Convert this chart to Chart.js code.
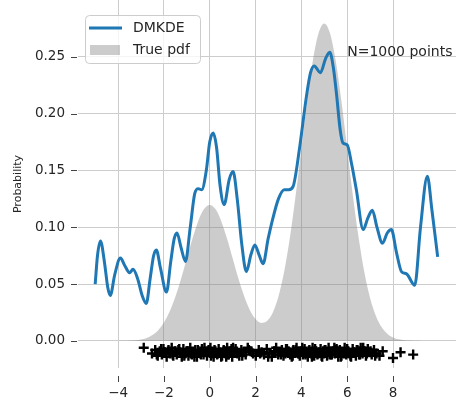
<!DOCTYPE html>
<html lang="en">
<head>
    <meta charset="UTF-8" />
    <title>DMKDE vs true pdf</title>
    <style>
        body {
            margin: 0;
            background-color: #ffffff;
        }
        #chart {
            display: block;
        }
    </style>
</head>
<body>
<canvas id="chart" width="456" height="402"></canvas>

<script src="https://cdn.jsdelivr.net/npm/chart.js"></script>
<script>
    // DMKDE estimate
    const dmkdeX = [-5.0, -4.9, -4.77, -4.6, -4.45, -4.34, -4.15, -3.9, -3.7, -3.5,
        -3.35, -3.15, -2.95, -2.77, -2.6, -2.45, -2.33, -2.15, -1.89, -1.7,
        -1.55, -1.43, -1.25, -1.06, -0.85, -0.65, -0.5, -0.35, -0.15, 0.0,
        0.15, 0.3, 0.45, 0.63, 0.85, 1.02, 1.2, 1.4, 1.6, 1.8,
        1.97, 2.15, 2.33, 2.55, 2.77, 3.0, 3.25, 3.45, 3.64, 3.93,
        4.22, 4.4, 4.56, 4.83, 5.05, 5.24, 5.4, 5.53, 5.7, 5.82,
        6.0, 6.2, 6.4, 6.7, 6.9, 7.1, 7.3, 7.54, 7.75, 7.93,
        8.15, 8.37, 8.59, 8.95, 9.2, 9.5, 9.7, 9.95];
    const dmkdeY = [0.050, 0.075, 0.088, 0.070, 0.047, 0.040, 0.058, 0.073, 0.066, 0.060,
        0.063, 0.055, 0.040, 0.033, 0.055, 0.075, 0.080, 0.064, 0.043, 0.070,
        0.090, 0.095, 0.082, 0.070, 0.100, 0.130, 0.134, 0.133, 0.150, 0.175,
        0.183, 0.170, 0.137, 0.120, 0.142, 0.149, 0.125, 0.085, 0.061, 0.076,
        0.0845, 0.076, 0.068, 0.090, 0.109, 0.125, 0.133, 0.133, 0.136, 0.171,
        0.215, 0.236, 0.242, 0.236, 0.248, 0.254, 0.240, 0.218, 0.185, 0.174,
        0.1725, 0.155, 0.133, 0.098, 0.108, 0.115, 0.100, 0.086, 0.095, 0.098,
        0.078, 0.061, 0.059, 0.049, 0.100, 0.145, 0.115, 0.074];

    // true density (grey area)
    const pdfX = [-5.0, -4.75, -4.5, -4.25, -4.0, -3.75, -3.5, -3.25, -3.0, -2.75,
        -2.5, -2.25, -2.0, -1.75, -1.5, -1.25, -1.0, -0.75, -0.5, -0.25,
        0.0, 0.25, 0.5, 0.75, 1.0, 1.25, 1.5, 1.75, 2.0, 2.25,
        2.5, 2.75, 3.0, 3.25, 3.5, 3.75, 4.0, 4.25, 4.5, 4.75,
        5.0, 5.25, 5.5, 5.75, 6.0, 6.25, 6.5, 6.75, 7.0, 7.25,
        7.5, 7.75, 8.0, 8.25, 8.5, 8.75, 9.0, 9.25, 9.5, 9.75, 10.0];
    const pdfY = [0, 0, 0, 0, 0, 0.0001, 0.0003, 0.0006, 0.0013, 0.0027,
        0.0053, 0.0095, 0.0162, 0.0259, 0.0389, 0.0548, 0.0726, 0.0903, 0.1056, 0.1160,
        0.1197, 0.1160, 0.1056, 0.0903, 0.0727, 0.0551, 0.0395, 0.0273, 0.0193, 0.0159,
        0.0176, 0.0249, 0.0391, 0.0610, 0.0910, 0.1279, 0.1694, 0.2108, 0.2465, 0.2707,
        0.2793, 0.2707, 0.2465, 0.2108, 0.1694, 0.1278, 0.0907, 0.0604, 0.0378, 0.0222,
        0.0123, 0.0064, 0.0031, 0.0014, 0.0006, 0.0003, 0.0001, 0, 0, 0, 0];

    // sample points drawn as '+' under the curves
    const rugX = [-2.88, -2.52, -2.38, -2.27, -2.18, -2.09, -2.02, -1.95, -1.88, -1.80,
        -1.74, -1.66, -1.59, -1.51, -1.44, -1.37, -1.29, -1.22, -1.15, -1.07,
        -1.00, -0.93, -0.85, -0.78, -0.71, -0.63, -0.56, -0.49, -0.41, -0.34,
        -0.27, -0.19, -0.12, -0.05, 0.03, 0.10, 0.17, 0.25, 0.32, 0.39,
        0.47, 0.54, 0.61, 0.69, 0.76, 0.83, 0.91, 0.98, 1.06, 1.13,
        1.21, 1.29, 1.38, 1.47, 1.57, 1.66, 1.78, 1.89, 2.01, 2.14,
        2.26, 2.37, 2.49, 2.60, 2.71, 2.81, 2.90, 2.99, 3.07, 3.15,
        3.22, 3.30, 3.37, 3.44, 3.51, 3.58, 3.65, 3.72, 3.79, 3.86,
        3.93, 4.00, 4.07, 4.14, 4.21, 4.28, 4.35, 4.42, 4.49, 4.56,
        4.63, 4.70, 4.77, 4.84, 4.91, 4.98, 5.05, 5.12, 5.19, 5.26,
        5.33, 5.40, 5.47, 5.54, 5.61, 5.68, 5.75, 5.82, 5.89, 5.96,
        6.03, 6.10, 6.17, 6.24, 6.31, 6.38, 6.45, 6.52, 6.59, 6.67,
        6.74, 6.82, 6.90, 6.98, 7.07, 7.17, 7.28, 7.41, 7.55, 8.00,
        8.33, 8.88,
        -1.62, -1.33, -1.11, -0.96, -0.82, -0.67, -0.52, -0.38, -0.23, -0.09,
        0.06, 0.21, 0.36, 0.50, 0.65, 0.80, 0.95, 1.17, 1.42, 1.71,
        2.20, 2.55, 2.86, 3.11, 3.33, 3.48, 3.62, 3.76, 3.90, 4.04,
        4.18, 4.32, 4.46, 4.60, 4.74, 4.88, 5.02, 5.16, 5.30, 5.44,
        5.58, 5.72, 5.86, 6.00, 6.14, 6.28, 6.42, 6.56, 6.70, 6.86,
        7.02, 7.22, -1.98, -2.12, -2.31, 0.72, 1.02, 4.95, 5.23, 5.51];
    const rugY = [-0.006, -0.011, -0.008, -0.013, -0.009, -0.012, -0.007, -0.010, -0.014, -0.008,
        -0.011, -0.006, -0.013, -0.009, -0.012, -0.008, -0.010, -0.014, -0.007, -0.011,
        -0.009, -0.013, -0.006, -0.012, -0.010, -0.008, -0.014, -0.009, -0.011, -0.007,
        -0.012, -0.010, -0.013, -0.008, -0.006, -0.011, -0.014, -0.009, -0.012, -0.007,
        -0.010, -0.013, -0.008, -0.011, -0.006, -0.012, -0.009, -0.014, -0.010, -0.007,
        -0.011, -0.013, -0.008, -0.010, -0.012, -0.006, -0.009, -0.011, -0.013, -0.008,
        -0.010, -0.012, -0.007, -0.011, -0.014, -0.009, -0.006, -0.012, -0.010, -0.008,
        -0.013, -0.011, -0.007, -0.009, -0.012, -0.014, -0.008, -0.010, -0.006, -0.011,
        -0.013, -0.009, -0.012, -0.007, -0.010, -0.014, -0.008, -0.011, -0.006, -0.013,
        -0.009, -0.012, -0.010, -0.007, -0.014, -0.011, -0.008, -0.013, -0.006, -0.010,
        -0.012, -0.009, -0.011, -0.007, -0.014, -0.008, -0.013, -0.010, -0.006, -0.012,
        -0.009, -0.011, -0.014, -0.007, -0.010, -0.013, -0.008, -0.012, -0.006, -0.011,
        -0.009, -0.013, -0.007, -0.010, -0.012, -0.008, -0.011, -0.013, -0.009, -0.015,
        -0.010, -0.012,
        -0.012, -0.007, -0.013, -0.009, -0.011, -0.014, -0.008, -0.012, -0.006, -0.010,
        -0.013, -0.008, -0.011, -0.014, -0.009, -0.012, -0.007, -0.010, -0.013, -0.008,
        -0.011, -0.014, -0.009, -0.012, -0.007, -0.010, -0.013, -0.008, -0.011, -0.006,
        -0.012, -0.009, -0.014, -0.007, -0.011, -0.013, -0.008, -0.010, -0.012, -0.006,
        -0.009, -0.014, -0.011, -0.007, -0.013, -0.010, -0.008, -0.012, -0.006, -0.011,
        -0.009, -0.013, -0.010, -0.007, -0.012, -0.014, -0.006, -0.009, -0.012, -0.008];

    const xTicks = [-4, -2, 0, 2, 4, 6, 8];
    const yTicks = [0, 0.05, 0.10, 0.15, 0.20, 0.25];

    const FONT = "'DejaVu Sans', sans-serif";
    const TEXT = "#262626";
    const BLUE = "#1f77b4";
    const GREY = "rgba(128,128,128,0.4)";

    function pts(xs, ys) {
        return xs.map((x, i) => ({ x: x, y: ys[i] }));
    }

    // no extra room for the end labels, the plot runs to the canvas edges
    function noPad(s) {
        s.paddingTop = 0;
        s.paddingBottom = 0;
        s.paddingLeft = 0;
        s.paddingRight = 0;
    }

    // legend, annotation and the offset tick marks
    const extras = {
        id: "extras",
        afterDraw(chart) {
            const ctx = chart.ctx;
            const xs = chart.scales.x;
            const ys = chart.scales.y;
            const area = chart.chartArea;

            ctx.save();
            // tick marks
            ctx.strokeStyle = "#444";
            ctx.lineWidth = 1;
            xTicks.forEach(v => {
                const px = Math.round(xs.getPixelForValue(v)) + 0.5;
                ctx.beginPath();
                ctx.moveTo(px, area.bottom + 8);
                ctx.lineTo(px, area.bottom + 14);
                ctx.stroke();
            });
            yTicks.forEach(v => {
                const py = Math.round(ys.getPixelForValue(v)) + 0.5;
                ctx.beginPath();
                ctx.moveTo(area.left - 7, py);
                ctx.lineTo(area.left - 1, py);
                ctx.stroke();
            });

            // text at (6, 0.25)
            ctx.fillStyle = TEXT;
            ctx.font = "14px " + FONT;
            ctx.textAlign = "left";
            ctx.textBaseline = "alphabetic";
            ctx.fillText("N=1000 points", xs.getPixelForValue(6), ys.getPixelForValue(0.25) - 1);

            // legend box
            const bx = 85.5, by = 15.5, bw = 115, bh = 48, r = 4;
            ctx.beginPath();
            ctx.moveTo(bx + r, by);
            ctx.arcTo(bx + bw, by, bx + bw, by + bh, r);
            ctx.arcTo(bx + bw, by + bh, bx, by + bh, r);
            ctx.arcTo(bx, by + bh, bx, by, r);
            ctx.arcTo(bx, by, bx + bw, by, r);
            ctx.closePath();
            ctx.fillStyle = "rgba(255,255,255,0.8)";
            ctx.fill();
            ctx.strokeStyle = "#cccccc";
            ctx.stroke();

            ctx.strokeStyle = BLUE;
            ctx.lineWidth = 3;
            ctx.beginPath();
            ctx.moveTo(89, 28);
            ctx.lineTo(122, 28);
            ctx.stroke();
            ctx.fillStyle = GREY;
            ctx.fillRect(90, 45, 30, 10);

            ctx.fillStyle = TEXT;
            ctx.textBaseline = "middle";
            ctx.fillText(chart.data.datasets[0].label, 133, 28);
            ctx.fillText(chart.data.datasets[1].label, 133, 50);
            ctx.restore();
        }
    };

    const ctx = document.getElementById("chart").getContext("2d");
    new Chart(ctx, {
        type: "scatter",
        data: {
            datasets: [
                {
                    label: "DMKDE",
                    data: pts(dmkdeX, dmkdeY),
                    showLine: true,
                    borderColor: BLUE,
                    borderWidth: 3,
                    pointRadius: 0,
                    cubicInterpolationMode: "monotone",
                    fill: false,
                    order: 1
                },
                {
                    label: "True pdf",
                    data: pts(pdfX, pdfY),
                    showLine: true,
                    borderWidth: 0,
                    borderColor: "rgba(0,0,0,0)",
                    backgroundColor: GREY,
                    pointRadius: 0,
                    cubicInterpolationMode: "monotone",
                    fill: "origin",
                    order: 3
                },
                {
                    label: "samples",
                    data: pts(rugX, rugY),
                    showLine: false,
                    pointStyle: "cross",
                    pointRadius: 5,
                    borderColor: "#000000",
                    borderWidth: 2.4,
                    order: 0
                }
            ]
        },
        options: {
            responsive: false,
            animation: false,
            layout: { padding: 0, autoPadding: false },
            plugins: {
                legend: { display: false },
                tooltip: { enabled: false }
            },
            scales: {
                x: {
                    type: "linear",
                    min: -5.75,
                    max: 10.75,
                    afterFit: s => { s.height = 34; noPad(s); },
                    afterBuildTicks: s => { s.ticks = xTicks.map(v => ({ value: v })); },
                    border: { display: false },
                    grid: { color: "#cccccc", lineWidth: 1, drawTicks: false },
                    ticks: {
                        color: TEXT,
                        font: { family: FONT, size: 13.5 },
                        padding: 17,
                        maxRotation: 0,
                        callback: v => (v < 0 ? "\u2212" + Math.abs(v) : "" + v)
                    }
                },
                y: {
                    min: -0.0238,
                    max: 0.300,
                    afterFit: s => { s.width = 78; noPad(s); },
                    afterBuildTicks: s => { s.ticks = yTicks.map(v => ({ value: v })); },
                    border: { display: false },
                    grid: { color: "#cccccc", lineWidth: 1, drawTicks: false },
                    ticks: {
                        color: TEXT,
                        font: { family: FONT, size: 13.5 },
                        padding: 13,
                        callback: v => v.toFixed(2)
                    },
                    title: {
                        display: true,
                        text: "Probability",
                        color: TEXT,
                        font: { family: FONT, size: 11 },
                        padding: { top: 12, bottom: 0 }
                    }
                }
            }
        },
        plugins: [extras]
    });
</script>
</body>
</html>
